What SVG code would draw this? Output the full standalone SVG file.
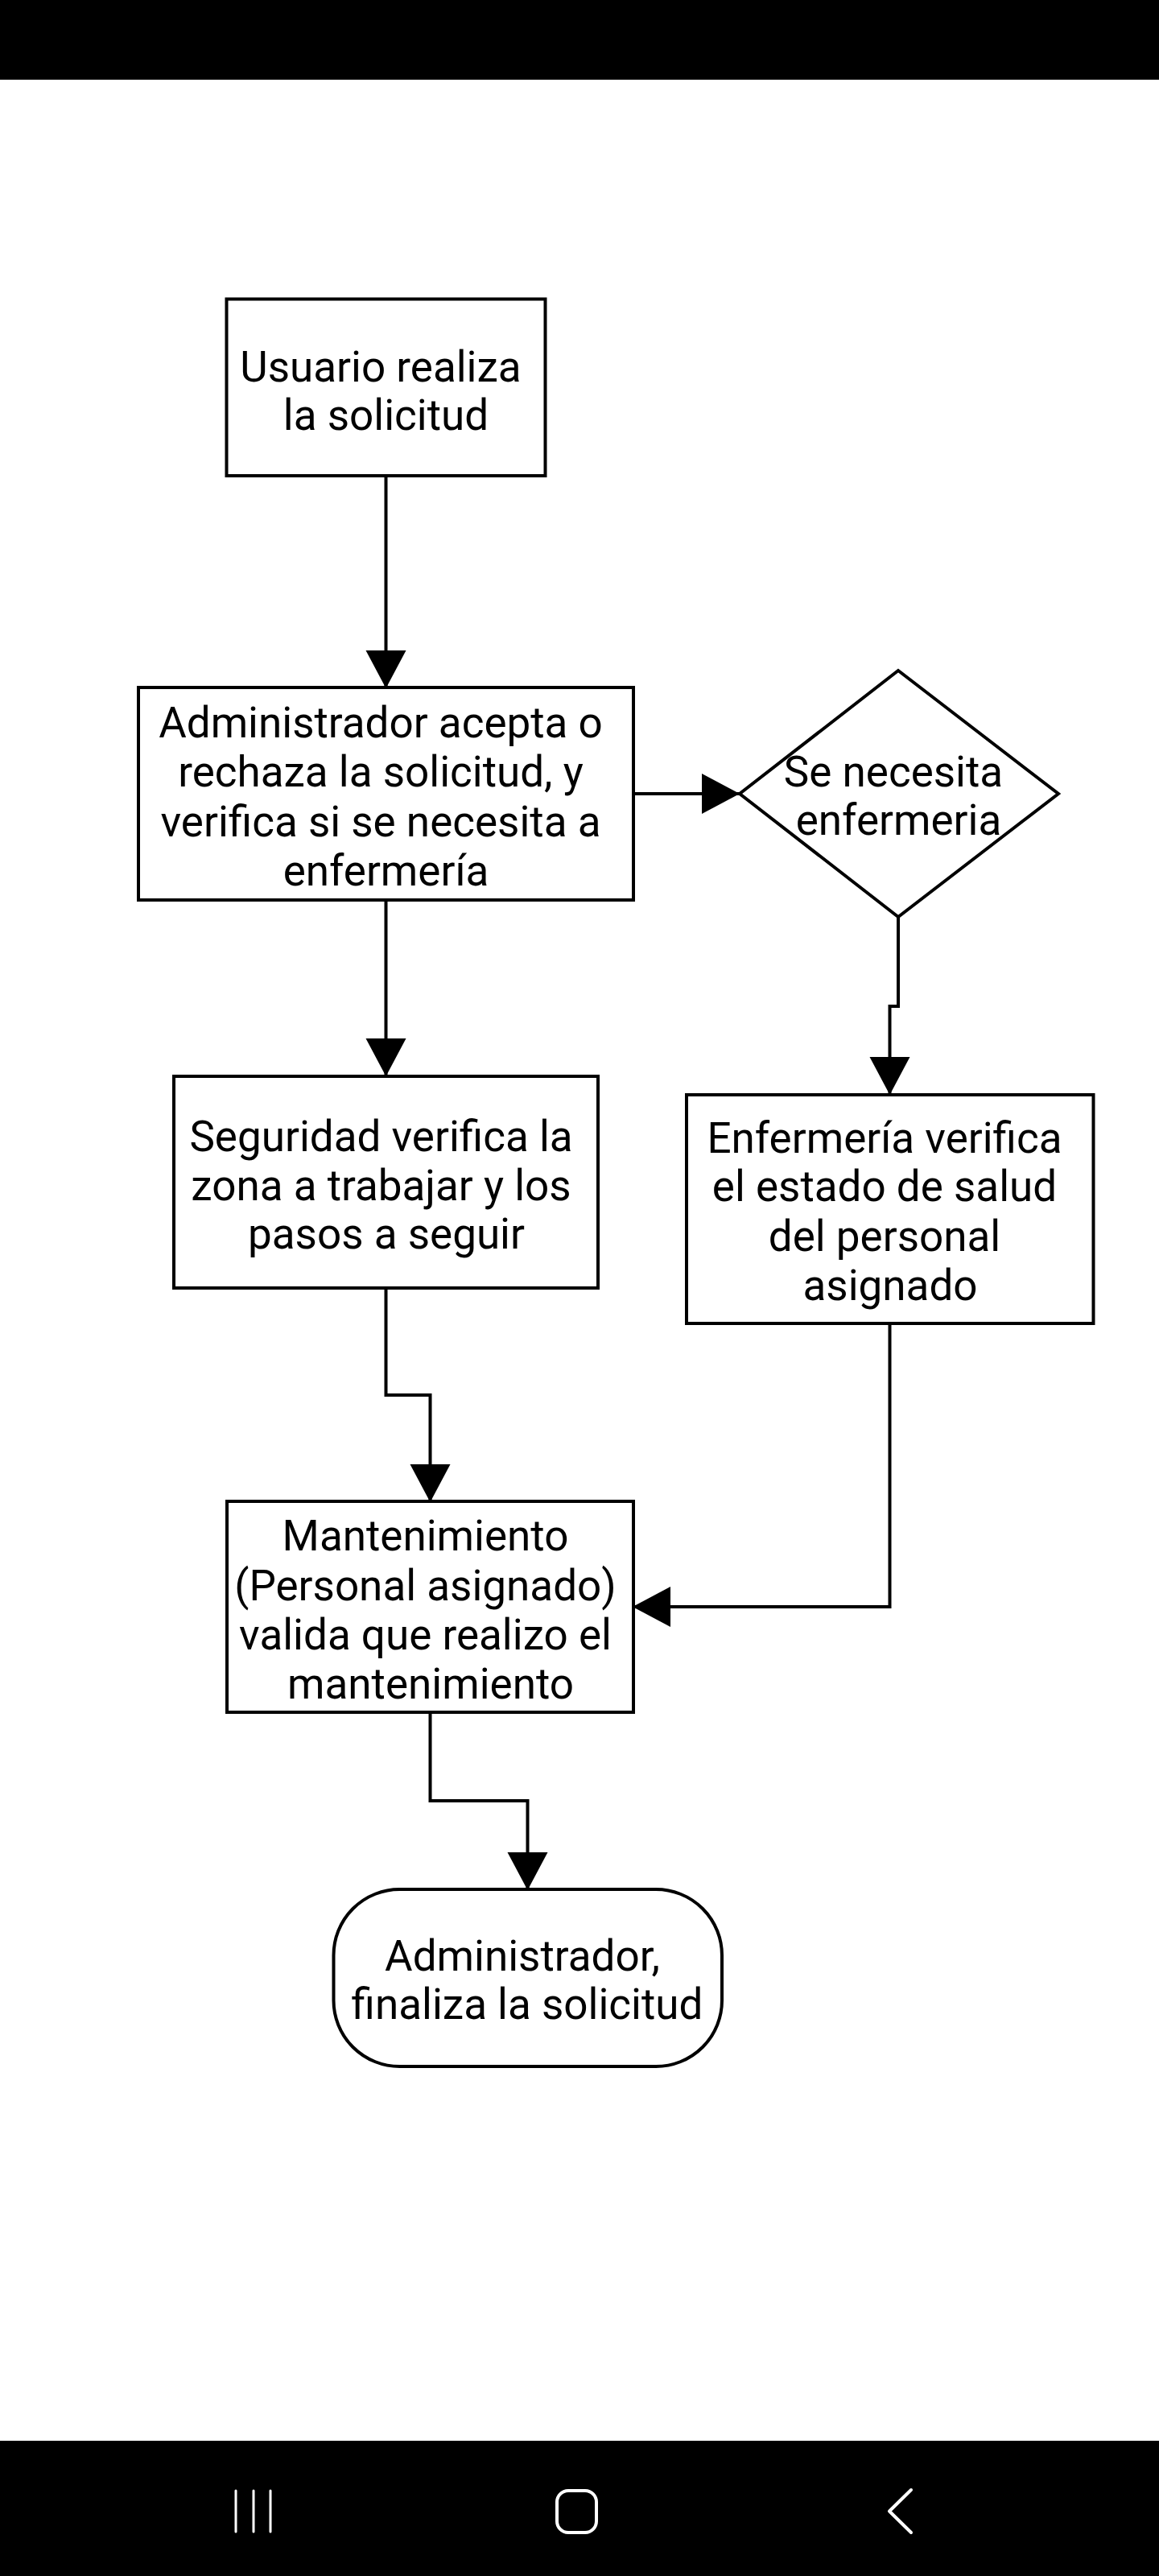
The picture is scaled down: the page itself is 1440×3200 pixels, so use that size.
<svg xmlns="http://www.w3.org/2000/svg" width="1440" height="3200" viewBox="0 0 1440 3200">
<style>
.node{fill:#ffffff;stroke:#000000;stroke-width:4}
.edge{fill:none;stroke:#000000;stroke-width:4}
.lbl{font-family:Roboto,"Noto Sans","Liberation Sans",sans-serif;font-size:53px;fill:#000000;text-anchor:middle}
.ico{fill:none;stroke:#ffffff;stroke-width:4;stroke-linecap:round;stroke-linejoin:round}
</style>
<defs>
<marker id="arr" markerUnits="userSpaceOnUse" markerWidth="48" markerHeight="52" refX="47" refY="25" orient="auto" viewBox="0 0 48 52">
<path d="M0,0 L47,25 L0,50 Z" fill="#000000"/>
</marker>
</defs>
<rect x="0" y="0" width="1440" height="3200" fill="#ffffff"/>
<rect x="0" y="0" width="1440" height="99" fill="#000000"/>
<rect x="0" y="3032" width="1440" height="168" fill="#000000"/>
<g id="navbar">
<line class="ico" x1="293" y1="3094" x2="293" y2="3145" style="stroke-width:3"/>
<line class="ico" x1="315" y1="3094" x2="315" y2="3145" style="stroke-width:3"/>
<line class="ico" x1="336" y1="3094" x2="336" y2="3145" style="stroke-width:3"/>
<rect class="ico" x="692" y="3094" width="49" height="52" rx="14"/>
<polyline class="ico" points="1132,3093 1105,3119.5 1132,3146"/>
</g>
<g id="connectors">
<path class="edge" d="M479.5,591 L479.5,855" marker-end="url(#arr)"/>
<path class="edge" d="M787,986 L919,986" marker-end="url(#arr)"/>
<path class="edge" d="M1116,1139 L1116,1250 L1105.5,1250 L1105.5,1360" marker-end="url(#arr)"/>
<path class="edge" d="M479.5,1118 L479.5,1337" marker-end="url(#arr)"/>
<path class="edge" d="M479.5,1600 L479.5,1733 L534.5,1733 L534.5,1866" marker-end="url(#arr)"/>
<path class="edge" d="M1105.5,1644 L1105.5,1996 L786,1996" marker-end="url(#arr)"/>
<path class="edge" d="M534.5,2127 L534.5,2237 L655.5,2237 L655.5,2348" marker-end="url(#arr)"/>
</g>
<g id="n1">
<rect class="node" x="281.5" y="371.5" width="396" height="219.5"/>
<text class="lbl" x="473" y="474">Usuario realiza</text>
<text class="lbl" x="479.5" y="534">la solicitud</text>
</g>
<g id="n2">
<rect class="node" x="172" y="854" width="615" height="264"/>
<text class="lbl" x="473" y="916">Administrador acepta o</text>
<text class="lbl" x="473" y="977">rechaza la solicitud, y</text>
<text class="lbl" x="473" y="1039">verifica si se necesita a</text>
<text class="lbl" x="479.5" y="1100">enfermería</text>
</g>
<g id="n3">
<polygon class="node" points="1116,833 1315,986 1116,1139 919,986"/>
<text class="lbl" x="1110" y="977">Se necesita</text>
<text class="lbl" x="1116.5" y="1037">enfermeria</text>
</g>
<g id="n4">
<rect class="node" x="216" y="1337" width="527" height="263"/>
<text class="lbl" x="473.5" y="1430">Seguridad verifica la</text>
<text class="lbl" x="473.5" y="1491">zona a trabajar y los</text>
<text class="lbl" x="480" y="1551">pasos a seguir</text>
</g>
<g id="n5">
<rect class="node" x="853" y="1360" width="505.5" height="284"/>
<text class="lbl" x="1099" y="1432">Enfermería verifica</text>
<text class="lbl" x="1099" y="1492">el estado de salud</text>
<text class="lbl" x="1099" y="1554">del personal</text>
<text class="lbl" x="1106" y="1615">asignado</text>
</g>
<g id="n6">
<rect class="node" x="282" y="1865" width="505" height="262"/>
<text class="lbl" x="528.5" y="1926">Mantenimiento</text>
<text class="lbl" x="528.5" y="1988">(Personal asignado)</text>
<text class="lbl" x="528.5" y="2049">valida que realizo el</text>
<text class="lbl" x="535" y="2110">mantenimiento</text>
</g>
<g id="n7">
<rect class="node" x="414.5" y="2347" width="482.5" height="220" rx="82" ry="82"/>
<text class="lbl" x="649" y="2448">Administrador,</text>
<text class="lbl" x="655" y="2508">finaliza la solicitud</text>
</g>
</svg>
